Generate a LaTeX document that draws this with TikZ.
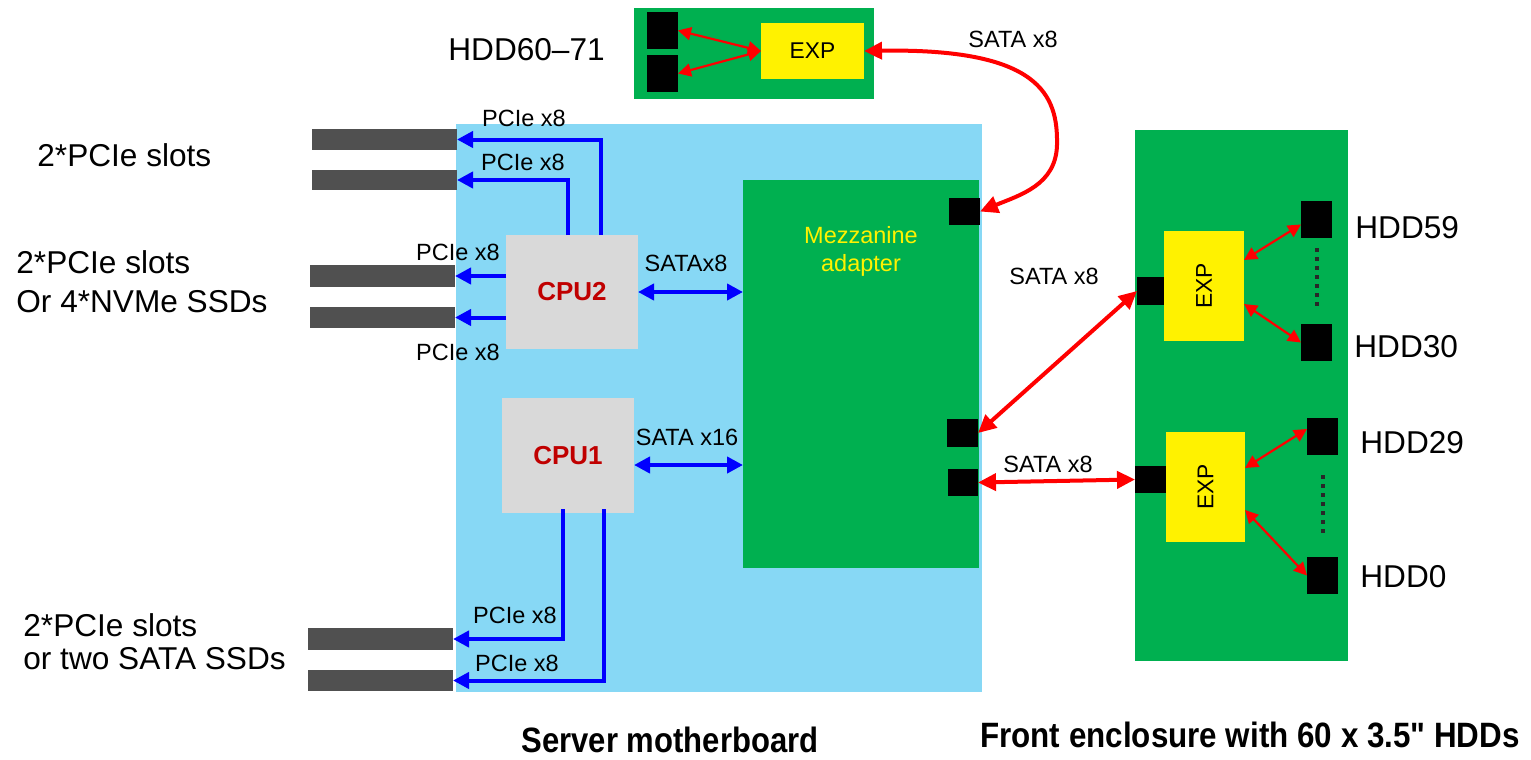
\documentclass[tikz,border=0pt]{standalone}
\usepackage{fontspec}
\setmainfont{Liberation Sans}
\newfontfamily\plainsans{Liberation Sans}
\usetikzlibrary{arrows.meta,fit,calc}
\definecolor{mbblue}{RGB}{135,216,245}
\definecolor{pcbgreen}{RGB}{0,176,80}
\definecolor{cpugray}{RGB}{217,217,217}
\definecolor{slotgray}{RGB}{80,80,80}
\definecolor{cpured}{RGB}{192,0,0}
\definecolor{dotgray}{RGB}{40,40,40}
\newcommand{\fsmall}{\fontsize{11.75pt}{14pt}\selectfont}
\newcommand{\fbig}{\fontsize{15.8pt}{19pt}\selectfont}
\begin{document}
\begin{tikzpicture}[x=0.5pt,y=-0.5pt,
 area/.style={inner sep=0pt, outer sep=0pt, draw=none},
 mbboard/.style={area, fill=mbblue},
 pcb/.style={area, fill=pcbgreen},
 port/.style={area, fill=black},
 expander/.style={area, fill=yellow},
 cpubox/.style={area, fill=cpugray},
 slot/.style={area, fill=slotgray},
 lbl/.style={inner sep=0pt, font=\fsmall},
 biglbl/.style={inner sep=0pt, font=\fbig, anchor=west, align=left},
 explbl/.style={inner sep=0pt, font=\fontsize{11.4pt}{13pt}\selectfont},
 cpulbl/.style={inner sep=0pt, text=cpured, font=\bfseries\fontsize{13pt}{15pt}\selectfont},
 bluelink/.style={draw=blue, line width=2pt, -{Triangle[length=8pt,width=8pt]}},
 bluebi/.style={draw=blue, line width=2pt, {Triangle[length=8pt,width=8pt]}-{Triangle[length=8pt,width=8pt]}},
 redbig/.style={draw=red, line width=2pt, {Triangle[length=9pt,width=8.5pt]}-{Triangle[length=9pt,width=8.5pt]}},
 redsmall/.style={draw=red, line width=1.1pt, {Triangle[length=6.5pt,width=6.5pt]}-{Triangle[length=6.5pt,width=6.5pt]}},
 dotline/.style={draw=dotgray, line width=2pt, dash pattern=on 2pt off 2.5pt},
 title/.style={inner sep=0pt, font=\plainsans\bfseries\fontsize{16pt}{20pt}\selectfont},
]
\useasboundingbox (0,0) rectangle (1531,760);

% boards
\node[mbboard, fit={(456,124) (982,692)}] (mb) {};
\node[pcb, fit={(634,8) (874,99)}] (topbox) {};
\node[pcb, fit={(743,180) (979,568)}] (mezz) {};
\node[pcb, fit={(1135,130) (1348,661)}] (encl) {};

% top box
\node[expander, fit={(761,23) (864,79)}, label={[explbl]center:EXP}] (topexp) {};
\node[port, fit={(647,12) (678,49)}] (tp1) {};
\node[port, fit={(647,55) (678,92)}] (tp2) {};

% mezzanine ports
\node[port, fit={(949,198) (980,225)}] (mp1) {};
\node[port, fit={(947,419) (978,447)}] (mp2) {};
\node[port, fit={(948,469) (978,496)}] (mp3) {};
\node[lbl, text=yellow, align=center, font=\fontsize{11.75pt}{14pt}\selectfont] (mezzlbl) at (861,251) {Mezzanine\\adapter};

% enclosure
\node[expander, fit={(1164,231) (1244,341)}, label={[explbl, rotate=90]center:EXP}] (exp1) {};
\node[port, fit={(1137,277) (1164,305)}] (ep1) {};
\node[port, fit={(1301,201) (1332,238)}] (h59) {};
\node[port, fit={(1301,324) (1332,361)}] (h30) {};
\node[expander, fit={(1166,432) (1245,542)}, label={[explbl, rotate=90]center:EXP}] (exp2) {};
\node[port, fit={(1135,466) (1166,493)}] (ep2) {};
\node[port, fit={(1307,418) (1338,455)}] (h29) {};
\node[port, fit={(1307,557) (1338,594)}] (h0) {};

% CPUs
\node[cpubox, fit={(506,235) (638,349)}, label={[cpulbl]center:CPU2}] (cpu2) {};
\node[cpubox, fit={(502,398) (634,513)}, label={[cpulbl]center:CPU1}] (cpu1) {};

% slots
\node[slot, fit={(312,129) (457,150)}] (s1) {};
\node[slot, fit={(312,170) (457,190)}] (s2) {};
\node[slot, fit={(310,265) (455,287)}] (s3) {};
\node[slot, fit={(310,307) (455,328)}] (s4) {};
\node[slot, fit={(308,628) (453,650)}] (s5) {};
\node[slot, fit={(308,670) (453,691)}] (s6) {};

% blue links
\coordinate (c2a) at (601,0);
\coordinate (c2b) at (568,0);
\coordinate (c1a) at (563,0);
\coordinate (c1b) at (604,0);
\draw[bluelink] (cpu2.north -| c2a) |- (s1.east);
\draw[bluelink] (cpu2.north -| c2b) |- (s2.east);
\draw[bluelink] (cpu2.west |- s3.east) -- (s3.east);
\draw[bluelink] (cpu2.west |- s4.east) -- (s4.east);
\draw[bluelink] ([yshift=2pt]cpu1.south -| c1a) |- (s5.east);
\draw[bluelink] ([yshift=2pt]cpu1.south -| c1b) |- (s6.east);
\draw[bluebi] (cpu2.east) -- (mezz.west |- cpu2.east);
\coordinate (s16) at ([yshift=-4.75pt]cpu1.east);
\draw[bluebi] (s16) -- (s16 -| mezz.west);

% blue labels
\node[lbl] at (524,118) {PCIe x8};
\node[lbl] at (523,162) {PCIe x8};
\node[lbl] at (458,252) {PCIe x8};
\node[lbl] at (458,352) {PCIe x8};
\node[lbl] at (515,615) {PCIe x8};
\node[lbl] at (517,663) {PCIe x8};
\node[lbl] at (686,263) {SATAx8};
\node[lbl] at (687,437) {SATA x16};

% red links
\draw[redsmall] (tp1.east) -- (topexp.west);
\draw[redsmall] (tp2.east) -- (topexp.west);
\draw[redbig] (topexp.east) .. controls (1040,48) and (1058,95) .. (1057,145)
   .. controls (1056,185) and (1020,195) .. (mp1.east);
\draw[redbig] (mp2.east) -- (ep1.west);
\draw[redbig] (mp3.east) -- (ep2.west);
\draw[redsmall] ([yshift=13pt]exp1.east) -- ([yshift=-2.5pt]h59.west);
\draw[redsmall] ([yshift=-9pt]exp1.east) -- (h30.west);
\draw[redsmall] ([yshift=9.5pt]exp2.east) -- ([yshift=3.75pt]h29.west);
\draw[redsmall] ([yshift=-11.5pt]exp2.east) -- (h0.west);
\node[lbl] at (1013,39) {SATA x8};
\node[lbl] at (1054,276) {SATA x8};
\node[lbl] at (1048,464) {SATA x8};

% dots
\draw[dotline] ([yshift=-5pt]h59.south) -- ([yshift=7pt]h30.north);
\draw[dotline] ([yshift=-10pt]h29.south) -- ([yshift=10pt]h0.north);

% big labels
\node[biglbl] at (448,50) {HDD60–71};
\node[biglbl] at (1355,228) {HDD59};
\node[biglbl] at (1354,347) {HDD30};
\node[biglbl] at (1360,443) {HDD29};
\node[biglbl] at (1360,577) {HDD0};
\node[biglbl] at (37,155) {2*PCIe slots};
\node[biglbl, font=\fontsize{15.8pt}{19.5pt}\selectfont] at (16,281.5) {2*PCIe slots\\Or 4*NVMe SSDs};
\node[biglbl, font=\fontsize{15.8pt}{16.5pt}\selectfont] at (23,641.5) {2*PCIe slots\\or two SATA SSDs};

% titles
\node[title] at (670,740) {\scalebox{0.97}[1.1]{Server motherboard}};
\node[title] at (1250,735) {\scalebox{0.98}[1.1]{Front enclosure with 60 x 3.5" HDDs}};
\end{tikzpicture}
\end{document}
